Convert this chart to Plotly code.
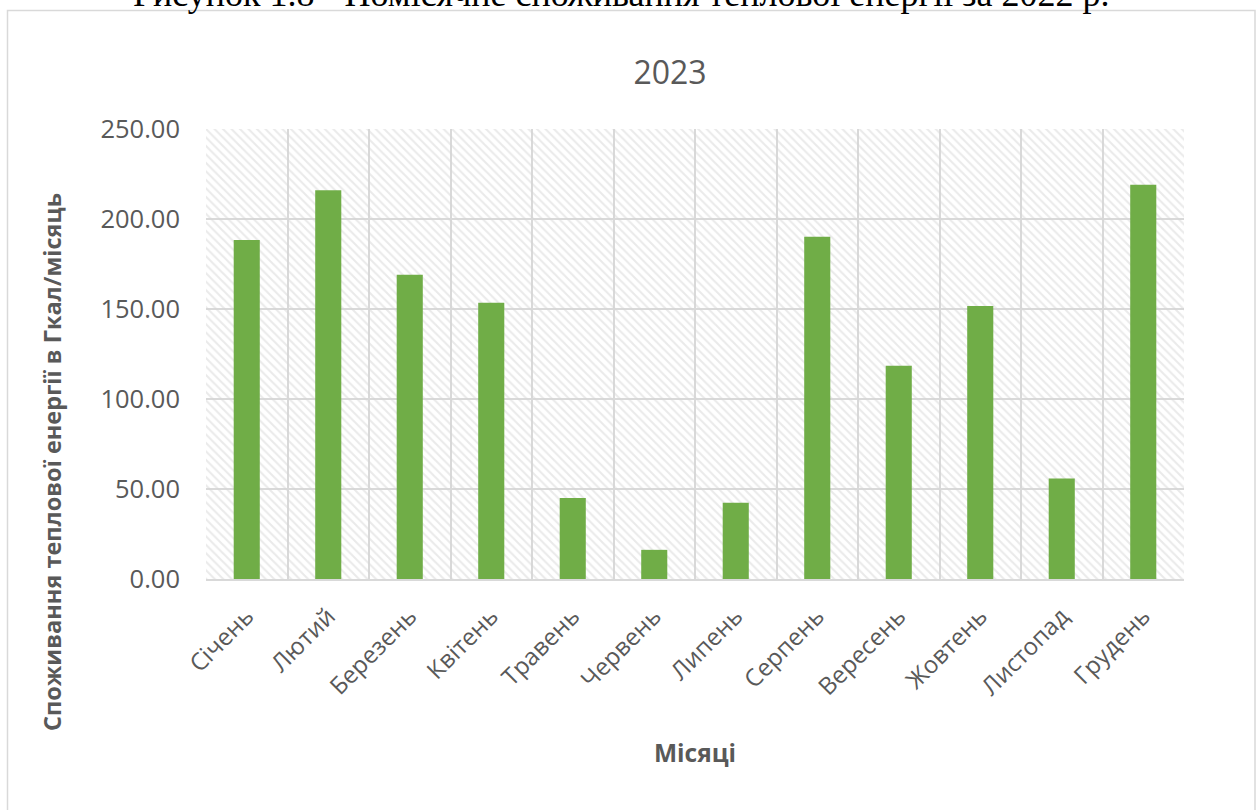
import plotly.graph_objects as go

months = ["Січень", "Лютий", "Березень", "Квітень", "Травень", "Червень",
          "Липень", "Серпень", "Вересень", "Жовтень", "Листопад", "Грудень"]
values = [188.3, 216.0, 169.0, 153.5, 45.0, 16.2, 42.3, 190.2, 118.5, 151.6, 55.8, 219.0]
y_ticks = [0, 50, 100, 150, 200, 250]

title_text = "2023"
caption_text = "Рисунок 1.8 - Помісячне споживання теплової енергії за 2022 р."
y_title = "Споживання теплової енергії в Гкал/місяць"
x_title = "Місяці"

W, H = 1258, 810
L, R, T, B = 206, 1258 - 1184, 129, 810 - 579
pw, ph = W - L - R, H - T - B

def px_x(x):
    return (x - L) / pw

def px_y(y):
    return (H - B - y) / ph

xs = list(range(len(months)))
gray = "#595959"
grid = "#d9d9d9"
font_family = "Open Sans, Liberation Sans, sans-serif"

fig = go.Figure()

# hatched plot-area background
fig.add_trace(go.Bar(
    x=[(len(months) - 1) / 2], y=[max(y_ticks)], width=[len(months)],
    marker=dict(color="rgba(0,0,0,0)", line=dict(width=0),
                pattern=dict(shape="\\", fgcolor="#d6d6d6", bgcolor="rgba(0,0,0,0)",
                             size=6, solidity=0.35)),
    hoverinfo="skip", showlegend=False,
))

fig.add_trace(go.Bar(
    x=xs, y=values, width=0.32,
    marker=dict(color="#70AD47", line=dict(width=0)),
    showlegend=False,
))

fig.update_layout(
    width=W, height=H,
    margin=dict(l=L, r=R, t=T, b=B),
    paper_bgcolor="white", plot_bgcolor="white",
    barmode="overlay",
    font=dict(family=font_family, color=gray),
    title=dict(text=title_text, x=px_x(670), xref="paper", xanchor="center",
               y=1 - 73 / H, yanchor="middle",
               font=dict(size=32, color=gray, family=font_family)),
    xaxis=dict(
        range=[-0.5, len(months) - 0.5],
        tickmode="array", tickvals=xs, ticktext=months,
        tickangle=-45, tickfont=dict(size=24, color=gray),
        showgrid=False, zeroline=False,
        showline=True, linecolor=grid, linewidth=1.5,
        ticks="", ticklabelstandoff=12,
        minor=dict(tickmode="array", tickvals=[i - 0.5 for i in range(len(months) + 1)],
                   showgrid=True, gridcolor=grid, gridwidth=1.5, ticks=""),
    ),
    yaxis=dict(
        range=[0, max(y_ticks)],
        tickmode="array", tickvals=y_ticks, tickformat=".2f",
        tickfont=dict(size=25.5, color=gray),
        showgrid=True, gridcolor=grid, gridwidth=1.5,
        zeroline=False, showline=False, ticks="",
        ticklabelstandoff=25,
    ),
    annotations=[
        dict(text=y_title, textangle=-90, xref="paper", yref="paper",
             x=px_x(52), y=px_y(462), xanchor="center", yanchor="middle",
             showarrow=False, font=dict(size=23.5, color=gray, family=font_family, weight="bold")),
        dict(text=x_title, xref="paper", yref="paper",
             x=px_x(695), y=px_y(752), xanchor="center", yanchor="middle",
             showarrow=False, font=dict(size=24.5, color=gray, family=font_family, weight="bold")),
        dict(text=caption_text, xref="paper", yref="paper",
             x=px_x(621), y=px_y(-6), xanchor="center", yanchor="middle",
             showarrow=False, font=dict(size=36, color="black",
                                        family="Liberation Serif, Times New Roman, serif")),
    ],
    shapes=[
        dict(type="rect", xref="paper", yref="paper",
             x0=px_x(7.5), x1=px_x(1255), y0=px_y(830), y1=px_y(10.5),
             line=dict(color=grid, width=1.5), fillcolor="rgba(0,0,0,0)", layer="below"),
    ],
)

fig.write_html("out.html")
